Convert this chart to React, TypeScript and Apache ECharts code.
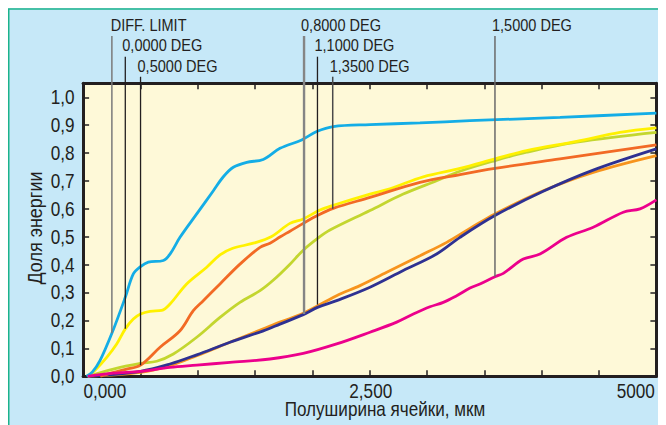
import React, { useEffect, useRef } from 'react';
import * as echarts from 'echarts';

// ---------- data ----------
const xTickValues = [0, 2500, 5000];
const xTickLabels = ['0,000', '2,500', '5000'];
const yTickValues = [0, 0.1, 0.2, 0.3, 0.4, 0.5, 0.6, 0.7, 0.8, 0.9, 1.0];
const yTickLabels = ['0,0', '0,1', '0,2', '0,3', '0,4', '0,5', '0,6', '0,7', '0,8', '0,9', '1,0'];
const xAxisTitle = 'Полуширина ячейки, мкм';
const yAxisTitle = 'Доля энергии';

const seriesNames = ['DIFF. LIMIT', '0,0000 DEG', '0,5000 DEG', '0,8000 DEG', '1,1000 DEG', '1,3500 DEG', '1,5000 DEG'];

const diffLimit = [[30, 0], [80, 0.015], [147, 0.056], [251, 0.154], [368, 0.283], [438, 0.367], [501, 0.393], [569, 0.409], [700, 0.415], [758, 0.438], [845, 0.498], [991, 0.582], [1136, 0.665], [1223, 0.715], [1310, 0.749], [1427, 0.767], [1571, 0.777], [1717, 0.817], [1906, 0.847], [2037, 0.877], [2182, 0.895], [2502, 0.902], [2938, 0.908], [3374, 0.916], [4159, 0.928], [5000, 0.943]];
const deg0000 = [[40, 0], [100, 0.02], [206, 0.068], [293, 0.116], [368, 0.170], [438, 0.205], [501, 0.223], [583, 0.233], [685, 0.236], [758, 0.259], [903, 0.331], [1078, 0.391], [1194, 0.435], [1300, 0.458], [1485, 0.477], [1640, 0.50], [1804, 0.548], [1920, 0.564], [2066, 0.596], [2182, 0.613], [2502, 0.653], [2676, 0.672], [2967, 0.715], [3287, 0.745], [3592, 0.779], [3868, 0.809], [4304, 0.842], [4682, 0.874], [5000, 0.890]];
const deg0500 = [[150, 0], [250, 0.012], [380, 0.026], [501, 0.040], [671, 0.104], [845, 0.163], [961, 0.235], [1048, 0.271], [1194, 0.331], [1368, 0.402], [1543, 0.462], [1630, 0.477], [1720, 0.50], [1804, 0.520], [1920, 0.548], [2051, 0.578], [2182, 0.602], [2502, 0.641], [2938, 0.695], [3287, 0.723], [3592, 0.745], [4159, 0.779], [5000, 0.829]];
const deg0800 = [[40, 0], [264, 0.026], [501, 0.046], [642, 0.054], [787, 0.080], [991, 0.140], [1194, 0.211], [1368, 0.265], [1543, 0.307], [1660, 0.345], [1800, 0.40], [1920, 0.452], [2051, 0.496], [2153, 0.524], [2502, 0.594], [2792, 0.653], [3083, 0.701], [3287, 0.735], [3592, 0.773], [3868, 0.803], [4304, 0.839], [5000, 0.874]];
const deg1100 = [[40, 0], [501, 0.014], [758, 0.038], [991, 0.074], [1281, 0.122], [1572, 0.170], [1717, 0.194], [1920, 0.226], [2211, 0.289], [2415, 0.325], [2648, 0.373], [2938, 0.432], [3171, 0.480], [3374, 0.530], [3592, 0.582], [4013, 0.665], [4449, 0.731], [5000, 0.791]];
const deg1350 = [[40, 0], [501, 0.018], [758, 0.044], [991, 0.077], [1281, 0.122], [1572, 0.163], [1717, 0.187], [1920, 0.221], [2044, 0.247], [2211, 0.271], [2502, 0.319], [2792, 0.379], [3083, 0.438], [3287, 0.498], [3592, 0.576], [4013, 0.663], [4449, 0.739], [5000, 0.815]];
const deg1500 = [[40, 0], [264, 0.011], [501, 0.018], [758, 0.032], [991, 0.040], [1281, 0.050], [1630, 0.062], [1920, 0.082], [2211, 0.116], [2502, 0.158], [2735, 0.194], [2880, 0.223], [3025, 0.249], [3141, 0.265], [3258, 0.289], [3374, 0.316], [3461, 0.331], [3592, 0.357], [3665, 0.369], [3839, 0.420], [3985, 0.438], [4217, 0.498], [4449, 0.534], [4711, 0.588], [4857, 0.600], [5000, 0.632]];

const seriesData = [diffLimit, deg0000, deg0500, deg0800, deg1100, deg1350, deg1500];

// marker lines: label, x value, y value where the line ends
const markerLabels = ['DIFF. LIMIT', '0,0000 DEG', '0,5000 DEG', '0,8000 DEG', '1,1000 DEG', '1,3500 DEG', '1,5000 DEG'];
const markerX = [251, 368, 501, 1927, 2044, 2177, 3592];
const markerYEnd = [0.154, 0.170, 0.040, 0.223, 0.257, 0.600, 0.357];

// ---------- styles ----------
const seriesColors = ['#14ade6', '#fff100', '#f26a25', '#c3d62f', '#f7941d', '#2e3192', '#ec008c'];
const drawOrder = [4, 5, 3, 1, 2, 0, 6];
const markerRow = [0, 1, 2, 0, 1, 2, 0];
const markerColor = ['#7a7a7a', '#231f20', '#231f20', '#858585', '#231f20', '#4a4a4a', '#6a6a6a'];
const markerWidth = [1.5, 1.3, 1.3, 2.4, 1.3, 1.5, 1.5];
const rowTextY = [17.5, 37, 58];
const rowLineTop = [28, 48.7, 68.7];

export default function App() {
  const ref = useRef<HTMLDivElement>(null);
  useEffect(() => {
    const chart = echarts.init(ref.current!, null, { renderer: 'svg' });
    const font = "'Liberation Sans', Arial, sans-serif";
    const dark = '#231f20';
    const lineAx = { show: true, onZero: false, lineStyle: { color: dark, width: 3 } };
    const tickAx = { show: true, inside: true, length: 6, lineStyle: { color: dark, width: 1.5 } };
    const grid = { left: 75.1, top: 75.3, width: 573.3, height: 293, show: true, backgroundColor: '#fef9d8', borderWidth: 0 };

    chart.setOption({
      animation: false,
      backgroundColor: '#c6e8f8',
      grid,
      xAxis: [
        {
          type: 'value', min: 0, max: 5000, interval: 500, position: 'bottom',
          axisLine: lineAx, axisTick: tickAx, splitLine: { show: false }, axisLabel: { show: false },
        },
        {
          type: 'value', min: 0, max: 5000, interval: 500, position: 'top',
          axisLine: lineAx, axisTick: tickAx, splitLine: { show: false }, axisLabel: { show: false },
        },
      ],
      yAxis: [
        {
          type: 'value', min: 0, max: 1.05, interval: 0.1, position: 'left',
          axisLine: lineAx, axisTick: tickAx, splitLine: { show: false }, axisLabel: { show: false },
        },
        {
          type: 'value', min: 0, max: 1.05, interval: 0.1, position: 'right',
          axisLine: lineAx, axisTick: tickAx, splitLine: { show: false }, axisLabel: { show: false },
        },
      ],
      series: drawOrder.map((i) => ({
        type: 'line',
        name: seriesNames[i],
        data: seriesData[i],
        xAxisIndex: 0,
        yAxisIndex: 0,
        showSymbol: false,
        smooth: 0.35,
        lineStyle: { color: seriesColors[i], width: 2.8 },
        itemStyle: { color: seriesColors[i] },
        z: 3,
      })),
    });

    const px = (x: number, y: number) => chart.convertToPixel({ xAxisIndex: 0, yAxisIndex: 0 }, [x, y]) as number[];
    const graphics: any[] = [];
    // outer border (top & left)
    graphics.push({ type: 'line', shape: { x1: 0.75, y1: 1, x2: 0.75, y2: 417 }, style: { stroke: '#1bb38c', lineWidth: 1.5 }, z: 10 });
    graphics.push({ type: 'line', shape: { x1: 0, y1: 1, x2: 658, y2: 1 }, style: { stroke: '#1bb38c', lineWidth: 1.5 }, z: 10 });

    // y tick labels
    yTickValues.forEach((v, i) => {
      const p = px(0, v);
      graphics.push({
        type: 'text', x: p[0] - 8.6, y: p[1], scaleX: 0.88,
        style: { text: yTickLabels[i], fill: dark, font: `19.5px ${font}`, align: 'right', verticalAlign: 'middle' },
      });
    });
    // x tick labels
    xTickValues.forEach((v, i) => {
      const p = px(v, 0);
      const align = i === 0 ? 'left' : i === xTickValues.length - 1 ? 'right' : 'center';
      const dx = i === 0 ? 0.3 : i === xTickValues.length - 1 ? -1.5 : 1;
      graphics.push({
        type: 'text', x: p[0] + dx, y: p[1] + 14.5, scaleX: 0.88,
        style: { text: xTickLabels[i], fill: dark, font: `19.5px ${font}`, align, verticalAlign: 'middle' },
      });
    });

    markerX.forEach((xv, i) => {
      const p = px(xv, markerYEnd[i]);
      const row = markerRow[i];
      graphics.push({
        type: 'line',
        shape: { x1: p[0], y1: rowLineTop[row], x2: p[0], y2: p[1] },
        style: { stroke: markerColor[i], lineWidth: markerWidth[i] },
        z: 5,
      });
      graphics.push({
        type: 'text',
        x: p[0] - (i === 0 ? 1.2 : 3),
        y: rowTextY[row],
        scaleX: 0.845,
        style: { text: markerLabels[i], fill: dark, font: `17.2px ${font}`, align: 'left', verticalAlign: 'middle' },
        z: 6,
      });
    });

    graphics.push({
      type: 'text', x: 377, y: 401, scaleX: 0.855,
      style: { text: xAxisTitle, fill: dark, font: `20px ${font}`, align: 'center', verticalAlign: 'middle' },
    });
    graphics.push({
      type: 'text', x: 27, y: 220, rotation: Math.PI / 2, scaleX: 0.9,
      style: { text: yAxisTitle, fill: dark, font: `20px ${font}`, align: 'center', verticalAlign: 'middle' },
    });

    chart.setOption({ graphic: graphics });
    return () => chart.dispose();
  }, []);
  return <div ref={ref} style={{ width: 658, height: 417 }} />;
}
